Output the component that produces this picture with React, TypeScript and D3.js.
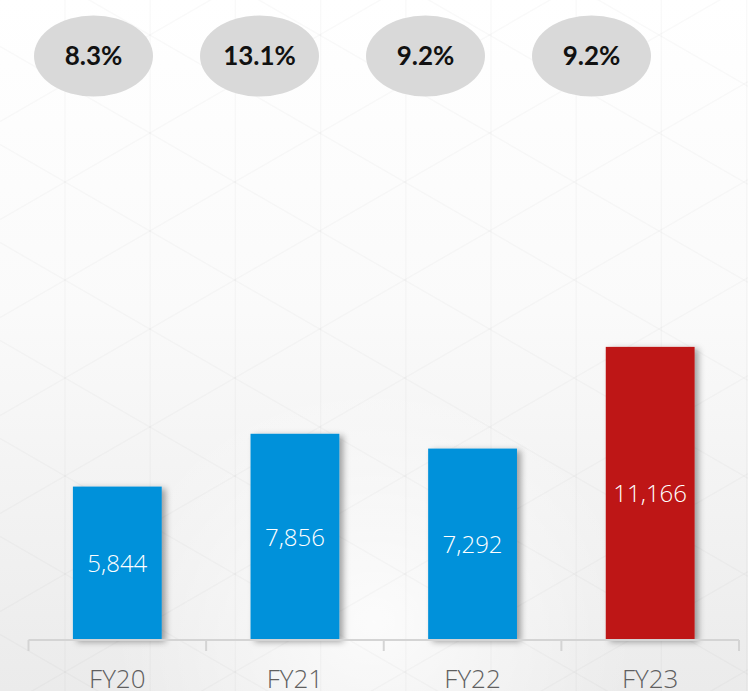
import React from "react";
import * as d3 from "d3";

// chart data
const categories = ["FY20", "FY21", "FY22", "FY23"];
const revenue = [5844, 7856, 7292, 11166];
const growth = ["8.3%", "13.1%", "9.2%", "9.2%"];
const barColors = ["#0091da", "#0091da", "#0091da", "#be1919"];

const width = 748;
const height = 691;
const axisY = 640;

function Background() {
  // faint triangle lattice behind the chart
  const tan30 = Math.tan(Math.PI / 6);
  const colStep = 85.2;
  const rowStep = 98;
  const verticals = d3.range(-1, 10).map((k) => 65 + colStep * k);
  const ups = d3.range(-8, 12).map((n) => 242.5 + rowStep * n);
  const downs = d3.range(-2, 14).map((n) => 317.5 + rowStep * n);
  return (
    <g>
      <defs>
        <linearGradient id="bg" x1="0" y1="0" x2="0" y2="1">
          <stop offset="0" stopColor="#ffffff" />
          <stop offset="0.45" stopColor="#fafafa" />
          <stop offset="1" stopColor="#ebebeb" />
        </linearGradient>
        <radialGradient id="glow" cx="0.5" cy="0.9" r="0.35">
          <stop offset="0" stopColor="#ffffff" stopOpacity="0.8" />
          <stop offset="1" stopColor="#ffffff" stopOpacity="0" />
        </radialGradient>
      </defs>
      <rect width={width} height={height} fill="url(#bg)" />
      <rect width={width} height={height} fill="url(#glow)" />
      <g stroke="#000" strokeOpacity={0.025} strokeWidth={1.5} fill="none">
        {verticals.map((x, i) => (
          <line key={"v" + i} x1={x} x2={x} y1={0} y2={height} />
        ))}
        {ups.map((c, i) => (
          <line key={"u" + i} x1={0} y1={c} x2={width} y2={c + width * tan30} />
        ))}
        {downs.map((c, i) => (
          <line key={"d" + i} x1={0} y1={c} x2={width} y2={c - width * tan30} />
        ))}
      </g>
    </g>
  );
}

export default function App() {
  const x = d3.scaleBand().domain(categories).range([28.5, 739]).padding(0);
  const y = d3.scaleLinear().domain([0, 12000]).range([axisY, 325]);
  const barW = x.bandwidth() * 0.5;
  const bubbleX = d3.scalePoint().domain(categories).range([93.5, 591.5]);
  const boundaries = [...categories.map((c) => x(c) as number), x.range()[1]];

  return (
    <svg
      width={width}
      height={height}
      style={{ position: "absolute", left: 0, top: 0, display: "block" }}
    >
      <defs>
        <filter id="shadow" x="-30%" y="-10%" width="160%" height="130%">
          <feDropShadow dx="4" dy="2" stdDeviation="3" floodColor="#000" floodOpacity="0.35" />
        </filter>
      </defs>
      <Background />

      {/* growth bubbles */}
      {categories.map((c, i) => (
        <g key={"b" + c} transform={`translate(${bubbleX(c)},56)`}>
          <ellipse rx={59.5} ry={40.5} fill="#d9d9d9" />
          <text
            textAnchor="middle"
            dy="0.36em"
            fontFamily="Lato, 'Open Sans', sans-serif"
            fontWeight={700}
            fontSize={26}
            fill="#111"
          >
            {growth[i]}
          </text>
        </g>
      ))}

      {/* bars */}
      {categories.map((c, i) => {
        const cx = (x(c) as number) + x.bandwidth() / 2;
        const top = y(revenue[i]);
        return (
          <g key={"r" + c}>
            <rect
              x={cx - barW / 2}
              y={top}
              width={barW}
              height={axisY - top}
              fill={barColors[i]}
              filter="url(#shadow)"
            />
            <text
              x={cx}
              y={(top + axisY) / 2}
              dy="0.36em"
              textAnchor="middle"
              fontFamily="'Open Sans', sans-serif"
              fontWeight={300}
              fontSize={24}
              fill="#fff"
            >
              {d3.format(",")(revenue[i])}
            </text>
          </g>
        );
      })}

      {/* axis */}
      <line x1={x.range()[0]} x2={x.range()[1]} y1={axisY} y2={axisY} stroke="#d4d4d4" strokeWidth={2} />
      {boundaries.map((bx, i) => (
        <line key={"t" + i} x1={bx} x2={bx} y1={axisY} y2={axisY + 11} stroke="#d4d4d4" strokeWidth={2} />
      ))}
      {categories.map((c) => (
        <text
          key={"l" + c}
          x={(x(c) as number) + x.bandwidth() / 2}
          y={688}
          textAnchor="middle"
          fontFamily="'Open Sans', sans-serif"
          fontWeight={300}
          fontSize={26}
          fill="#5f5f5f"
        >
          {c}
        </text>
      ))}
    </svg>
  );
}
